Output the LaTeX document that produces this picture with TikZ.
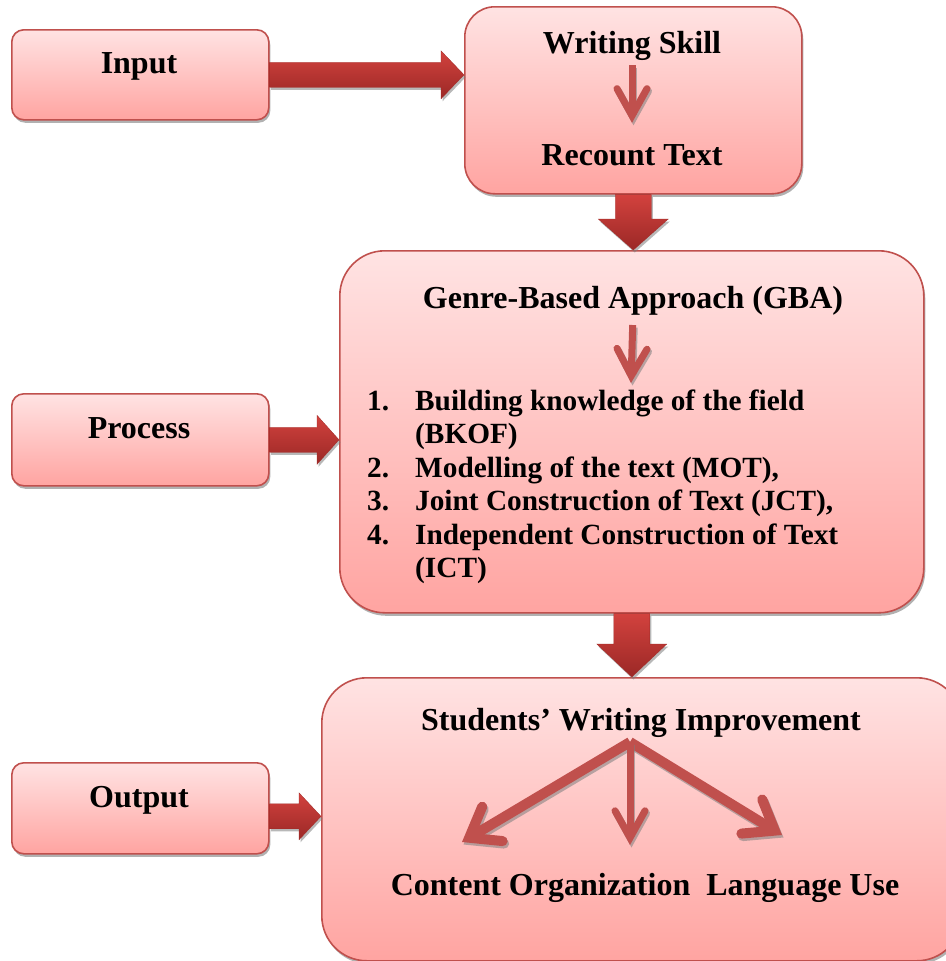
\documentclass[tikz,border=0pt]{standalone}
\usepackage{fontspec}
\setmainfont{Liberation Serif}
\usetikzlibrary{arrows.meta,shadows,calc}

\definecolor{edgered}{RGB}{192,80,77}
\definecolor{boxtop}{RGB}{255,227,227}
\definecolor{boxbot}{RGB}{255,164,161}
\definecolor{arrtop}{RGB}{210,66,62}
\definecolor{arrbot}{RGB}{155,40,38}
\definecolor{shadowgray}{RGB}{125,125,125}

\tikzset{
  box/.style={rectangle, draw=edgered, line width=1.6pt, inner sep=0pt,
    top color=boxtop, bottom color=boxbot, anchor=north west,
    drop shadow={shadow xshift=1.5pt, shadow yshift=-3pt, fill=shadowgray, opacity=0.6}},
  lbl/.style={font=\bfseries\fontsize{32}{34}\selectfont, anchor=base, inner sep=0pt},
  listtext/.style={font=\bfseries\fontsize{29.3}{33.5}\selectfont, anchor=base west, inner sep=0pt},
  blockarr/.style={top color=arrtop, bottom color=arrbot, draw=arrbot!90!arrtop, line width=0.3pt,
    drop shadow={shadow xshift=1.5pt, shadow yshift=-2.5pt, fill=shadowgray, opacity=0.55}},
  sarrow/.style={draw=edgered, line width=7pt, line join=miter,
    -{Straight Barb[length=27pt, width=30pt, line cap=round]}},
  warrow/.style={draw=edgered, line width=10pt, line join=miter,
    -{Straight Barb[length=27pt, width=40pt, line cap=round]}},
  ashadow/.style={draw=shadowgray, opacity=0.55, transform canvas={xshift=1.5pt, yshift=-2.5pt}}
}

% horizontal block arrow: start, tip, shaft half-height, head half-height, head length
\newcommand{\hblock}[5]{%
  \path[blockarr] let \p1=(#1), \p2=(#2) in
    (\x1,\y1+#3) -- (\x2-#5,\y1+#3) -- (\x2-#5,\y1+#4) -- (\x2,\y1)
    -- (\x2-#5,\y1-#4) -- (\x2-#5,\y1-#3) -- (\x1,\y1-#3) -- cycle;}
% vertical block arrow pointing down
\newcommand{\vblock}[5]{%
  \path[blockarr] let \p1=(#1), \p2=(#2) in
    (\x1-#3,\y1) -- (\x1-#3,\y2+#5) -- (\x1-#4,\y2+#5) -- (\x1,\y2)
    -- (\x1+#4,\y2+#5) -- (\x1+#3,\y2+#5) -- (\x1+#3,\y1) -- cycle;}
% thin arrow with its soft shadow
\newcommand{\sarr}[4][sarrow]{%
  \draw[#1,ashadow,#2] #3 -- #4;
  \draw[#1,#2] #3 -- #4;}

\begin{document}
\begin{tikzpicture}[x=1pt,y=-1pt]
\useasboundingbox (0,0) rectangle (945,961);

% boxes
\node[box, rounded corners=12pt, minimum width=257pt, minimum height=90pt] (input) at (11,29) {};
\node[box, rounded corners=30pt, minimum width=337pt, minimum height=187pt] (wbox) at (464,6) {};
\node[box, rounded corners=12pt, minimum width=257pt, minimum height=92pt] (proc) at (11,393) {};
\node[box, rounded corners=45pt, minimum width=584pt, minimum height=362pt] (gba) at (339,250) {};
\node[box, rounded corners=12pt, minimum width=257pt, minimum height=91pt] (outp) at (11,762) {};
\node[box, rounded corners=45pt, minimum width=640pt, minimum height=283pt] (obox) at (321,677) {};

% labels
\node[lbl] (tin) at (139,73) {Input};
\node[lbl] (wskill) at (632,53) {Writing Skill};
\node[lbl] (rtext) at (632,165) {Recount Text};
\node[lbl] (tproc) at (139,438) {Process};
\node[lbl] (gtitle) at (633,308) {Genre-Based Approach (GBA)};
\node[listtext] (steps) at (367,410) {%
  \begin{tabular}[t]{@{}p{48pt}@{}l@{}}
  1. & Building knowledge of the field\\
     & (BKOF)\\
  2. & Modelling of the text (MOT),\\
  3. & Joint Construction of Text (JCT),\\
  4. & Independent Construction of Text\\
     & (ICT)
  \end{tabular}};
\node[lbl] (tout) at (139,807) {Output};
\node[lbl] (swi) at (641,730) {Students’ Writing Improvement};
\node[lbl] (aspects) at (645,895) {Content Organization\ \ Language Use};

% block arrows between the stages
\coordinate (outstart) at ($(outp.east)+(0,8)$);
\hblock{input.east}{wbox.west}{12.5pt}{24pt}{23pt}
\hblock{proc.east}{gba.west}{12.5pt}{24.5pt}{22pt}
\hblock{outstart}{obox.west}{12.5pt}{23.5pt}{22pt}
\vblock{wbox.south}{gba.north}{18pt}{35pt}{31pt}
\vblock{gba.south}{obox.north}{18pt}{35pt}{33pt}

% thin arrows inside the boxes
\coordinate (gtip) at (631,383);
\coordinate (apex) at (630,742);
\coordinate (tipl) at (462,842);
\coordinate (tipm) at (630,845);
\coordinate (tipr) at (782,835);
\sarr{shorten <=5pt, shorten >=21pt}{(wskill.south)}{(rtext.north)}
\sarr{shorten <=10pt}{(gtitle.south)}{(gtip)}
\sarr[warrow]{}{(apex)}{(tipl)}
\sarr[warrow]{}{(apex)}{(tipr)}
\sarr{}{(apex)}{(tipm)}
\end{tikzpicture}
\end{document}
